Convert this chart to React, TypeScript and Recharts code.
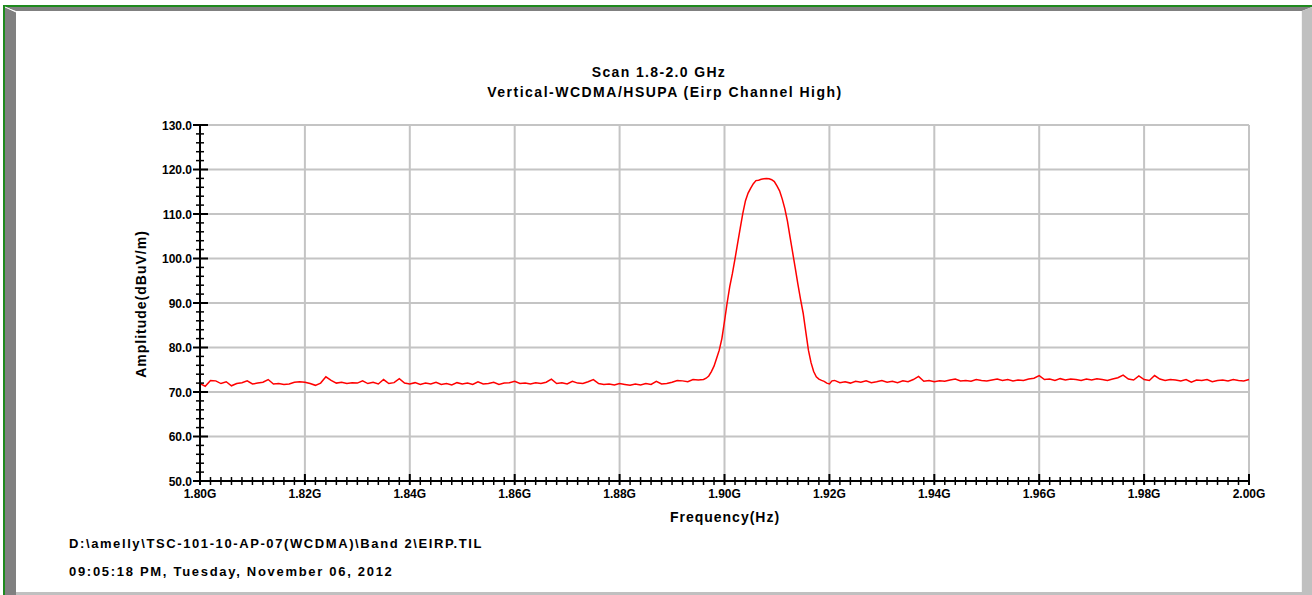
import React from 'react';
import { LineChart, Line, XAxis, YAxis, ReferenceLine } from 'recharts';

// Sweep below the carrier: 1 MHz steps starting at 1800 MHz
const lowStartMHz = 1800;
const lowNoise = [
  71.9, 71.3, 72.6, 72.5, 71.9, 72.3, 71.4, 71.9, 72.1, 72.5,
  71.8, 72.0, 72.2, 72.8, 71.8, 71.9, 71.7, 71.8, 72.2, 72.3,
  72.2, 71.9, 71.5, 72.0, 73.4, 72.6, 72.0, 72.2, 71.9, 72.1,
  72.0, 72.5, 71.9, 72.2, 71.8, 72.8, 71.9, 72.1, 73.0, 72.0,
  71.8, 72.1, 71.7, 72.0, 71.8, 72.2, 71.7, 71.9, 71.6, 72.1,
  71.8, 72.0, 71.7, 72.3, 71.8, 71.9, 72.2, 71.7, 72.0, 72.1,
  72.4, 71.9, 72.0, 71.8, 72.1, 71.9, 72.2, 72.9, 71.9, 72.1,
  71.8, 72.4, 72.0, 71.9, 72.3, 72.8, 71.9, 71.7, 71.8, 71.6,
  71.9, 71.7, 71.5, 71.8, 71.6, 71.9, 71.7, 72.4, 71.8, 71.9,
  72.2, 72.6, 72.5, 72.3, 72.8, 72.7,
];

// Carrier region (MHz, dBuV/m)
const peakFreq = [
  1896.0, 1896.5, 1897.0, 1897.5, 1898.0, 1898.5, 1899.0, 1899.5, 1900.0, 1900.5,
  1901.0, 1901.5, 1902.0, 1902.5, 1903.0, 1903.5, 1904.0, 1904.5, 1905.0, 1905.5,
  1906.0, 1906.5, 1907.0, 1907.5, 1908.0, 1908.5, 1909.0, 1909.5, 1910.0, 1910.5,
  1911.0, 1911.5, 1912.0, 1912.5, 1913.0, 1913.5, 1914.0, 1914.5, 1915.0, 1915.5,
  1916.0, 1916.5, 1917.0, 1917.5, 1918.0, 1918.5, 1919.0, 1919.5, 1920.0, 1920.5,
];
const peakAmp = [
  72.8, 73.1, 73.6, 74.6, 75.8, 77.6, 79.4, 82.0, 85.9, 90.0,
  93.7, 96.6, 99.9, 103.4, 106.8, 110.2, 113.0, 114.7, 115.8, 116.8,
  117.5, 117.6, 117.8, 117.9, 118.0, 117.9, 117.7, 117.3, 116.3, 115.2,
  113.4, 111.2, 108.4, 104.8, 101.3, 97.8, 94.2, 90.8, 87.7, 83.5,
  79.4, 76.6, 74.6, 73.4, 72.9, 72.6, 72.4, 72.0, 71.8, 72.5,
];

// Sweep above the carrier: 1 MHz steps starting at 1921 MHz
const highStartMHz = 1921;
const highNoise = [
  72.6, 72.1, 72.3, 72.0, 72.4, 72.2, 72.5, 72.1, 72.3, 72.6,
  72.2, 72.4, 72.1, 72.5, 72.3, 72.8, 73.5, 72.4, 72.6, 72.3,
  72.5, 72.4, 72.7, 72.9, 72.5, 72.6, 72.4, 72.8, 72.6, 72.5,
  72.7, 72.9, 72.6, 72.8, 72.5, 72.7, 72.6, 72.9, 73.1, 73.7,
  72.8, 72.9, 72.6, 73.0, 72.7, 72.9, 72.8, 72.6, 72.9, 72.7,
  73.0, 72.8, 72.6, 72.9, 73.2, 73.8, 72.9, 72.7, 73.6, 72.8,
  72.6, 73.7, 72.9, 72.6, 72.8, 72.7, 72.5, 72.8, 72.2, 72.7,
  72.6, 72.8, 72.3, 72.6, 72.7, 72.5, 72.8, 72.6, 72.5, 72.8,
];

const xMajorTicks = [1800, 1820, 1840, 1860, 1880, 1900, 1920, 1940, 1960, 1980, 2000];
const xTickLabels = ['1.80G', '1.82G', '1.84G', '1.86G', '1.88G', '1.90G', '1.92G', '1.94G', '1.96G', '1.98G', '2.00G'];
const yMajorTicks = [50, 60, 70, 80, 90, 100, 110, 120, 130];
const yTickLabels = ['50.0', '60.0', '70.0', '80.0', '90.0', '100.0', '110.0', '120.0', '130.0'];
const xMinorStep = 2;
const yMinorStep = 2;

const titleLine1 = 'Scan 1.8-2.0 GHz';
const titleLine2 = 'Vertical-WCDMA/HSUPA (Eirp Channel High)';
const xAxisTitle = 'Frequency(Hz)';
const yAxisTitle = 'Amplitude(dBuV/m)';
const footer1 = 'D:\\amelly\\TSC-101-10-AP-07(WCDMA)\\Band 2\\EIRP.TIL';
const footer2 = '09:05:18 PM, Tuesday, November 06, 2012';

const data: { f: number; a: number }[] = [];
lowNoise.forEach((a, i) => data.push({ f: lowStartMHz + i, a }));
peakFreq.forEach((f, i) => data.push({ f, a: peakAmp[i] }));
highNoise.forEach((a, i) => data.push({ f: highStartMHz + i, a }));

const xTicks: number[] = [];
for (let v = xMajorTicks[0]; v <= xMajorTicks[xMajorTicks.length - 1]; v += xMinorStep) xTicks.push(v);
const yTicks: number[] = [];
for (let v = yMajorTicks[0]; v <= yMajorTicks[yMajorTicks.length - 1]; v += yMinorStep) yTicks.push(v);

const FONT = '"Liberation Sans", Arial, Helvetica, sans-serif';
const GRID = '#c4c4c4';

const XTick = (props: any) => {
  const { x, y, payload } = props;
  const idx = xMajorTicks.indexOf(payload.value);
  if (idx >= 0) {
    return (
      <g>
        <line x1={x} x2={x} y1={y - 7} y2={y + 4} stroke="#000" strokeWidth={2} />
        <text x={x} y={y + 17} textAnchor="middle" fontFamily={FONT} fontWeight="bold" fontSize={12} fill="#000">
          {xTickLabels[idx]}
        </text>
      </g>
    );
  }
  return <line x1={x} x2={x} y1={y - 4} y2={y + 4} stroke="#000" strokeWidth={1.5} />;
};

const YTick = (props: any) => {
  const { x, y, payload } = props;
  const idx = yMajorTicks.indexOf(payload.value);
  if (idx >= 0) {
    return (
      <g>
        <line x1={x - 7} x2={x + 8} y1={y} y2={y} stroke="#000" strokeWidth={2} />
        <text x={x - 8} y={y + 4.5} textAnchor="end" fontFamily={FONT} fontWeight="bold" fontSize={12} fill="#000">
          {yTickLabels[idx]}
        </text>
      </g>
    );
  }
  return <line x1={x - 4} x2={x + 4} y1={y} y2={y} stroke="#000" strokeWidth={1.5} />;
};

export default function App() {
  const W = 1312;
  const H = 595;
  return (
    <div style={{ position: 'absolute', left: 0, top: 0, width: W, height: H, overflow: 'hidden', background: '#fff' }}>
      <svg width={W} height={H} style={{ position: 'absolute', left: 0, top: 0 }}>
        {/* frame */}
        <rect x={3} y={5} width={W - 3} height={2} fill="#1e8a1e" />
        <rect x={3} y={5} width={2} height={H - 5} fill="#1e8a1e" />
        <polygon points={`5,7 ${W},7 1302,11 16,11`} fill="#808080" />
        <polygon points={`5,7 16,12 16,${H} 5,${H}`} fill="#808080" />
        <polygon points={`${W},7 ${W},${H} 1302,${H} 1302,11`} fill="#c0c0c0" />
        <polygon points={`16,592 1302,592 1302,${H} 16,${H}`} fill="#c0c0c0" />
        <line x1={5} y1={7} x2={16} y2={12} stroke="#fff" strokeWidth={1} />
        <line x1={1301.5} y1={11} x2={1301.5} y2={592} stroke="#f4f4f4" strokeWidth={1} />
        {/* titles */}
        <text x={659} y={77} textAnchor="middle" fontFamily={FONT} fontWeight="bold" fontSize={14} letterSpacing={1.35} fill="#000">
          {titleLine1}
        </text>
        <text x={665} y={97} textAnchor="middle" fontFamily={FONT} fontWeight="bold" fontSize={14} letterSpacing={1.5} fill="#000">
          {titleLine2}
        </text>
        {/* axis titles */}
        <text x={725} y={522} textAnchor="middle" fontFamily={FONT} fontWeight="bold" fontSize={14} letterSpacing={1} fill="#000">
          {xAxisTitle}
        </text>
        <text
          x={0}
          y={0}
          transform="translate(146,304) rotate(-90)"
          textAnchor="middle"
          fontFamily={FONT}
          fontWeight="bold"
          fontSize={14}
          letterSpacing={1}
          fill="#000"
        >
          {yAxisTitle}
        </text>
        {/* footer */}
        <text x={69} y={547.5} fontFamily={FONT} fontWeight="bold" fontSize={13} letterSpacing={1.6} fill="#000">
          {footer1}
        </text>
        <text x={69} y={576} fontFamily={FONT} fontWeight="bold" fontSize={13} letterSpacing={1.7} fill="#000">
          {footer2}
        </text>
      </svg>
      <div style={{ position: 'absolute', left: 0, top: 0 }}>
        <LineChart width={W} height={H} data={data} margin={{ top: 125, right: 63, bottom: 84, left: 0 }}>
          {xMajorTicks.slice(1).map((v) => (
            <ReferenceLine key={'vx' + v} x={v} stroke={GRID} strokeWidth={2} />
          ))}
          {yMajorTicks.slice(1).map((v) => (
            <ReferenceLine key={'hy' + v} y={v} stroke={GRID} strokeWidth={2} />
          ))}
          <Line
            type="linear"
            dataKey="a"
            stroke="#ff0000"
            strokeWidth={1.5}
            dot={false}
            activeDot={false}
            isAnimationActive={false}
          />
          <XAxis
            dataKey="f"
            type="number"
            domain={[1800, 2000]}
            ticks={xTicks}
            interval={0}
            tickLine={false}
            tickSize={0}
            tickMargin={0}
            height={30}
            axisLine={{ stroke: '#000', strokeWidth: 2 }}
            tick={(p: any) => <XTick {...p} />}
          />
          <YAxis
            type="number"
            domain={[50, 130]}
            ticks={yTicks}
            interval={0}
            tickLine={false}
            tickSize={0}
            tickMargin={0}
            width={200}
            axisLine={{ stroke: '#000', strokeWidth: 2 }}
            tick={(p: any) => <YTick {...p} />}
          />
        </LineChart>
      </div>
    </div>
  );
}
